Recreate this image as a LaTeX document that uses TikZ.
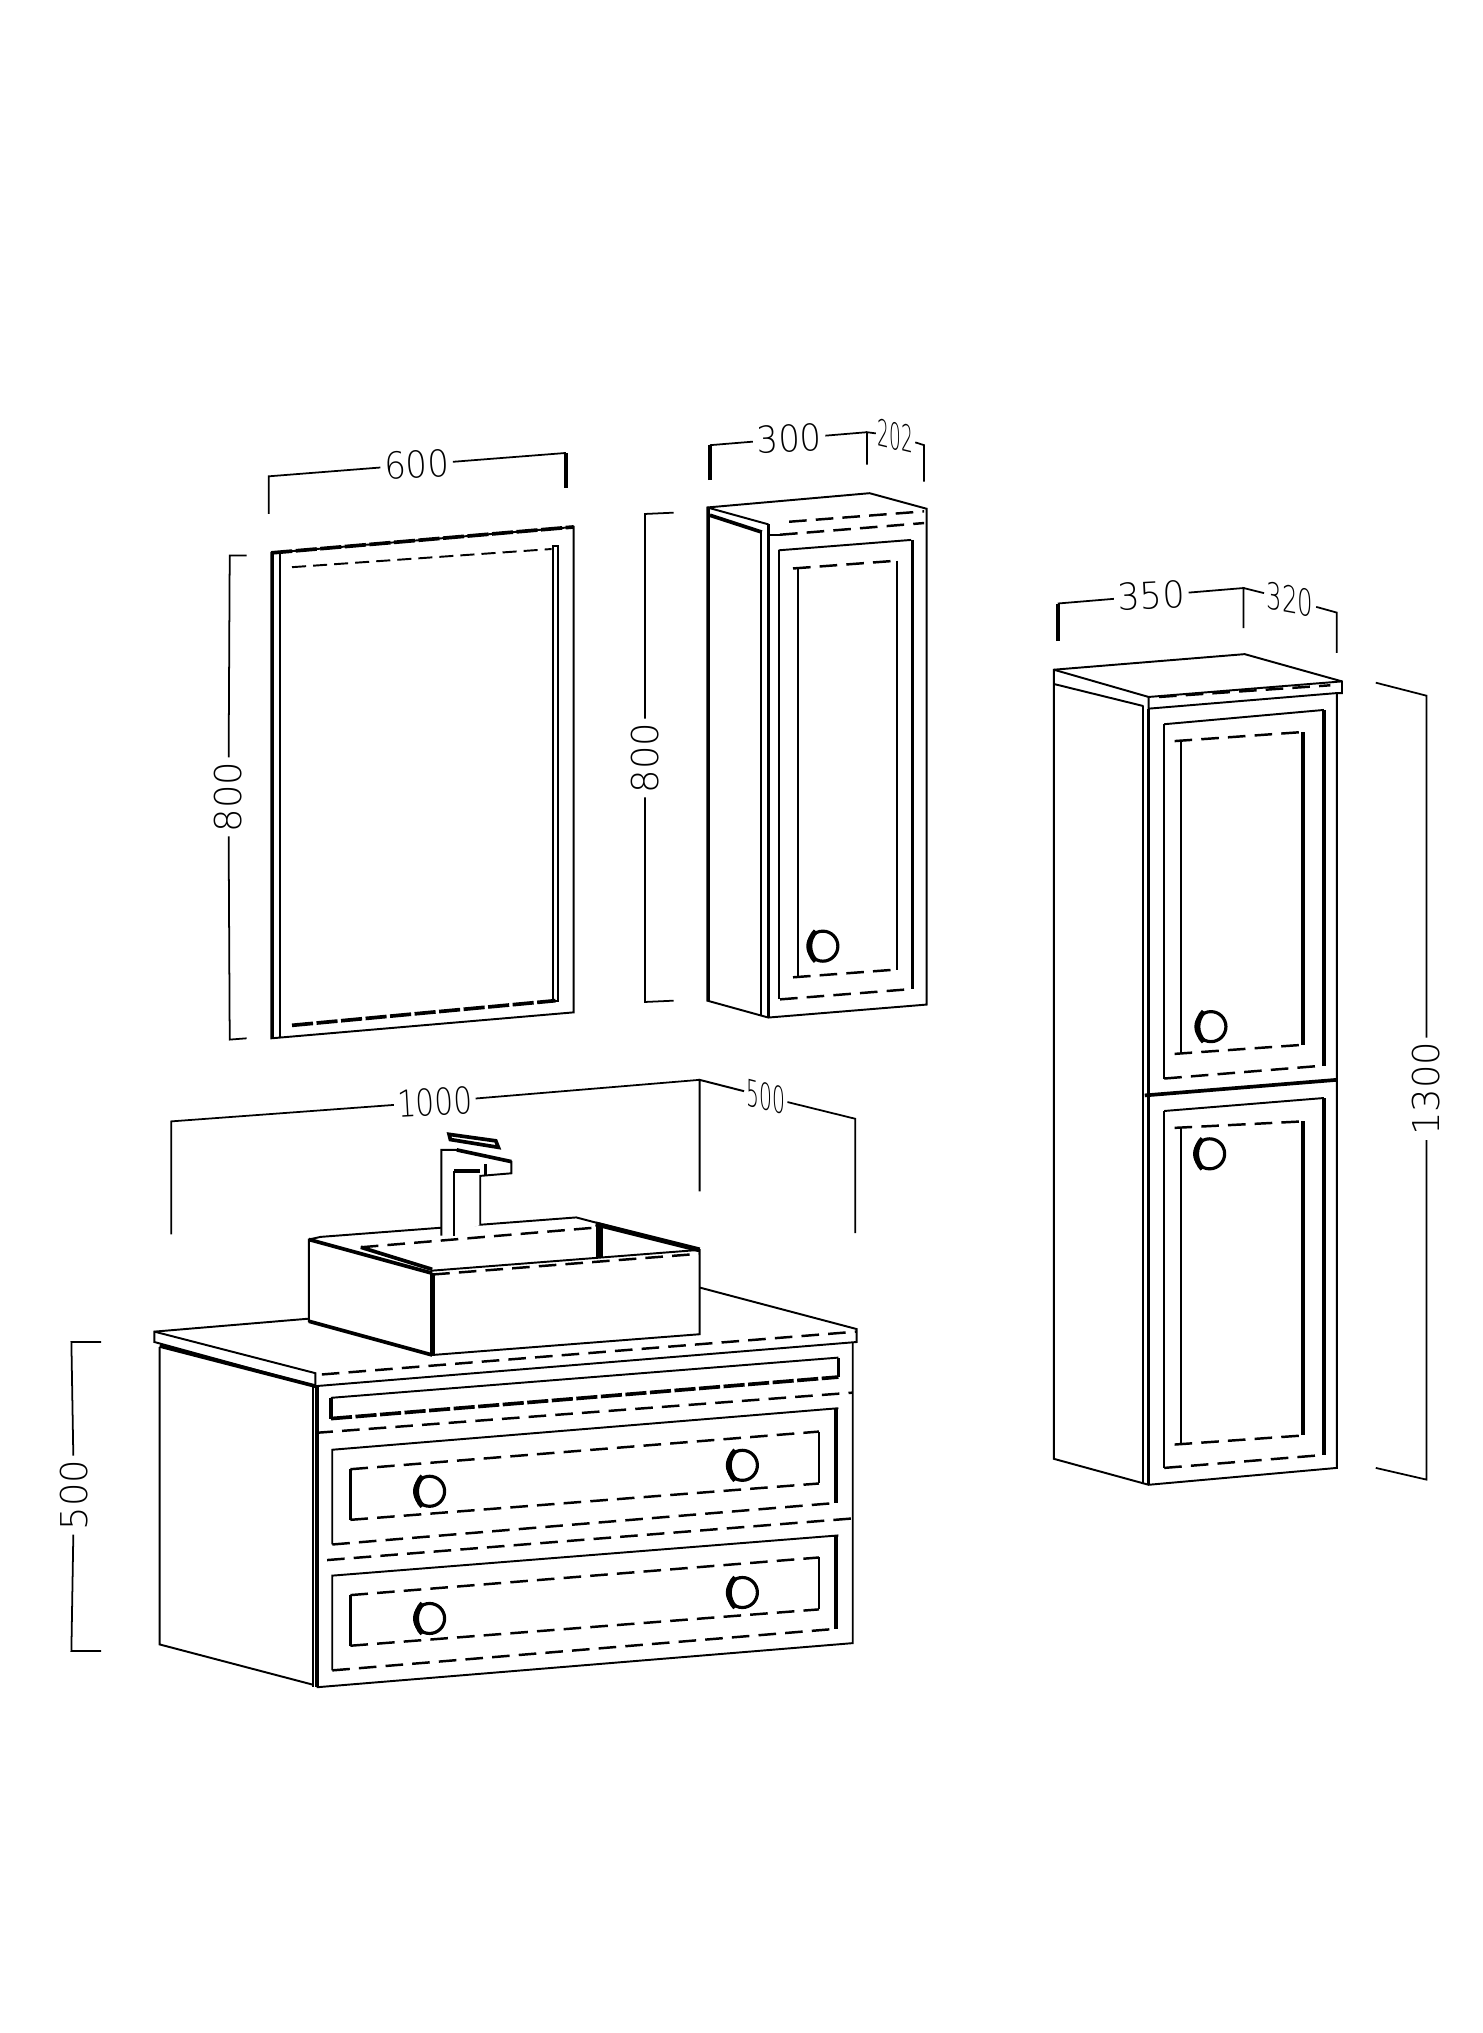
\documentclass[tikz,border=0pt]{standalone}
\usepackage{fontspec}
\setmainfont{DejaVu Sans ExtraLight}
\tikzset{
  x=0.01297cm, y=-0.01297cm,
  thinline/.style={line width=0.55pt, line join=miter},
  heavy/.style={line width=1.05pt},
  rough/.style={line width=1.05pt, dash pattern=on 6pt off 1pt},
  dashline/.style={line width=0.7pt, dash pattern=on 5pt off 2.6pt},
  dimline/.style={line width=0.5pt},
  dimtext/.style={font=\fontsize{10.5}{11}\selectfont, fill=white, inner sep=1pt},
  knob/.style={circle, draw, line width=0.9pt, minimum size=0.30cm, inner sep=0pt}
}
\newcommand{\knobmark}[2]{
  \node[knob] (#1) at (#2) {};
  \draw[line width=1.5pt] (#1.115) to[bend right=45] (#1.245);
}
\begin{document}
\begin{tikzpicture}
\useasboundingbox (0,0) rectangle (1142.6,1566.4);

% Mirror
\draw[thinline] (209,426) -- (442,406) -- (442,780) -- (209,800) -- cycle;
\draw[heavy] (210,427) -- (210,800);
\draw[thinline] (216,427) -- (216,799);
\draw[rough] (209,426) -- (442,406);
\draw[thinline, dash pattern=on 4pt off 2pt] (225,437) -- (425,423);
\draw[thinline] (426,421) rectangle (430,771);
\draw[rough] (225,790) -- (428,771);
% Mirror dimensions
\node[dimtext, rotate=3.3, xscale=0.92] (mirrorw) at (321,358) {600};
\node[dimtext, rotate=90] (mirrorh) at (176,614) {800};
\draw[dimline] (207,396) -- (207,367) -- (mirrorw);
\draw[dimline] (mirrorw) -- (436,349);
\draw[heavy] (436,349) -- (436,376);
\draw[dimline] (190,428) -- (177,428) -- (mirrorh);
\draw[dimline] (mirrorh) -- (177,801) -- (190,800);

% Wall cabinet
\draw[thinline] (545,391) -- (670,380) -- (714,392) -- (714,774) -- (592,784) -- (545,771) -- cycle;
\draw[heavy] (546,392) -- (546,771);
\draw[thinline] (545,391) -- (592,404);
\draw[heavy] (592,404) -- (592,784);
\draw[thinline] (586,410) -- (586,783);
\draw[heavy] (547,397) -- (587,410);
\draw[dashline] (608,402) -- (712,394);
\draw[dashline] (601,412) -- (712,403);
\draw[thinline] (592,412) -- (601,412);
\draw[thinline] (600,424) -- (702,416);
\draw[thinline] (600,424) -- (600,770);
\draw[heavy] (703,416) -- (703,762);
\draw[dashline] (601,770) -- (703,762);
\draw[thinline] (615,438) -- (615,753);
\draw[thinline] (691,432) -- (691,747);
\draw[dashline] (611,438) -- (691,432);
\draw[dashline] (611,753) -- (691,747);
\knobmark{wallknob}{634,729}
% Wall cabinet dimensions
\node[dimtext, rotate=3, xscale=0.92] (wallw) at (608,338) {300};
\node[dimtext, cm={0.5,-0.12,0,1,(0,0)}] (walld) at (690,336) {202};
\node[dimtext, rotate=90] (wallh) at (497,584) {800};
\draw[heavy] (547,370) -- (547,343);
\draw[dimline] (547,343) -- (wallw);
\draw[dimline] (wallw) -- (668,333);
\draw[dimline] (668,358) -- (668,333) -- (walld);
\draw[dimline] (walld) -- (712,343) -- (712,371);
\draw[dimline] (519,395) -- (497,396) -- (wallh);
\draw[dimline] (wallh) -- (497,772) -- (519,771);

% Tall cabinet
\draw[thinline] (812,516) -- (959,504) -- (1034,525) -- (1034,534) -- (1030,534) -- (1030,1131) -- (885,1144) -- (812,1124) -- cycle;
\draw[thinline] (812,516) -- (885,537) -- (1034,525);
\draw[thinline] (812,527) -- (881,544);
\draw[thinline] (885,537) -- (885,546) -- (1030,534);
\draw[heavy] (885,546) -- (885,1144);
\draw[thinline] (881,544) -- (881,1143);
\draw[dashline] (893,537) -- (1025,528);
% upper door
\draw[thinline] (897,558) -- (1020,547);
\draw[thinline] (897,558) -- (897,831);
\draw[heavy] (1020,547) -- (1020,821);
\draw[dashline] (897,831) -- (1020,821);
\draw[thinline] (910,571) -- (910,812);
\draw[heavy] (1004,564) -- (1004,805);
\draw[dashline] (905,571) -- (1004,564);
\draw[dashline] (905,812) -- (1004,805);
\knobmark{tallknoba}{933,791}
% lower door
\draw[heavy] (882,844) -- (1030,832);
\draw[thinline] (897,856) -- (1020,846);
\draw[thinline] (897,856) -- (897,1131);
\draw[heavy] (1020,846) -- (1020,1121);
\draw[dashline] (897,1131) -- (1020,1121);
\draw[thinline] (910,869) -- (910,1113);
\draw[heavy] (1004,864) -- (1004,1106);
\draw[dashline] (905,869) -- (1004,864);
\draw[dashline] (905,1113) -- (1004,1106);
\knobmark{tallknobb}{932,889}
% Tall cabinet dimensions
\node[dimtext, rotate=3, xscale=0.95] (tallw) at (887,459) {350};
\node[dimtext, cm={0.66,-0.12,0,1,(0,0)}] (talld) at (994,462) {320};
\node[dimtext, rotate=90] (tallh) at (1099,839) {1300};
\draw[heavy] (815,494) -- (815,465);
\draw[dimline] (815,465) -- (tallw);
\draw[dimline] (tallw) -- (959,453);
\draw[dimline] (958,484) -- (958,453) -- (talld);
\draw[dimline] (talld) -- (1030,472) -- (1030,503);
\draw[dimline] (1060,526) -- (1099,536) -- (tallh);
\draw[dimline] (tallh) -- (1099,1140) -- (1060,1131);

% Vanity counter
\draw[thinline] (238,1016) -- (119,1026) -- (119,1034) -- (243,1068) -- (660,1034) -- (660,1024) -- (539,992);
\draw[heavy] (123,1037) -- (243,1068);
\draw[thinline] (119,1026) -- (243,1058) -- (243,1068);
\draw[dashline] (248,1059) -- (660,1026);
% Vanity body
\draw[thinline] (123,1038) -- (123,1267) -- (241,1298);
\draw[thinline] (241,1068) -- (241,1300);
\draw[heavy] (244,1068) -- (244,1300);
\draw[thinline] (244,1300) -- (657,1266) -- (657,1034);
\draw[heavy] (255,1077) -- (255,1093);
\draw[rough] (255,1093) -- (646,1061);
\draw[heavy] (646,1061) -- (646,1046);
\draw[thinline] (255,1077) -- (646,1046);
\draw[dashline] (243,1104) -- (657,1073);
\draw[dashline] (252,1202) -- (656,1170);
% upper drawer
\draw[thinline] (256,1190) -- (256,1117) -- (646,1085);
\draw[heavy] (644,1085) -- (644,1158);
\draw[dashline] (256,1190) -- (644,1158);
\draw[heavy] (270,1132) -- (270,1171);
\draw[thinline] (631,1103) -- (631,1143);
\draw[dashline] (270,1132) -- (631,1103);
\draw[dashline] (270,1171) -- (631,1143);
\knobmark{drawerknoba}{331,1149}
\knobmark{drawerknobb}{572,1129}
% lower drawer
\draw[thinline] (256,1287) -- (256,1214) -- (646,1183);
\draw[heavy] (644,1183) -- (644,1255);
\draw[dashline] (256,1287) -- (644,1255);
\draw[heavy] (270,1229) -- (270,1268);
\draw[thinline] (631,1200) -- (631,1240);
\draw[dashline] (270,1229) -- (631,1200);
\draw[dashline] (270,1268) -- (631,1240);
\knobmark{drawerknobc}{331,1247}
\knobmark{drawerknobd}{572,1227}

% Basin
\draw[thinline, fill=white] (238,955) -- (238,1018) -- (333,1044) -- (539,1028) -- (539,963) -- (444,938) -- (247,953) -- cycle;
\draw[heavy] (238,955) -- (333,981);
\draw[line width=1.4pt] (333,981) -- (333,1044);
\draw[heavy] (238,1018) -- (333,1044);
\draw[line width=1.4pt] (459,943) -- (539,963);
\draw[line width=2.2pt] (462,944) -- (462,969);
\draw[thinline] (333,979) -- (539,963);
\draw[dashline] (333,982) -- (539,966);
\draw[dashline] (278,961) -- (457,946);
\draw[heavy] (278,961) -- (333,978);

% Faucet
\draw[thinline, fill=white] (340,952) -- (340,886) -- (352,886) -- (394,895) -- (394,904) -- (370,906) -- (370,944);
\draw[thinline] (350,952) -- (350,902);
\draw[heavy] (350,902) -- (370,902);
\draw[heavy] (346,874) -- (382,879) -- (384,884) -- (347,878) -- cycle;
\draw[heavy] (352,886) -- (394,895);
\draw[heavy] (374,906) -- (374,897);

% Vanity dimensions
\node[dimtext, rotate=3.3, xscale=0.8] (vanityw) at (335,849) {1000};
\node[dimtext, cm={0.55,-0.14,0,1,(0,0)}] (vanityd) at (590,845) {500};
\node[dimtext, rotate=90] (vanityh) at (57,1152) {500};
\draw[dimline] (132,951) -- (132,864) -- (vanityw);
\draw[dimline] (vanityw) -- (539,832);
\draw[thinline] (539,918) -- (539,832) -- (vanityd);
\draw[dimline] (vanityd) -- (659,862) -- (659,950);
\draw[dimline] (78,1034) -- (55,1034) -- (vanityh);
\draw[dimline] (vanityh) -- (55,1272) -- (78,1272);
\end{tikzpicture}
\end{document}
